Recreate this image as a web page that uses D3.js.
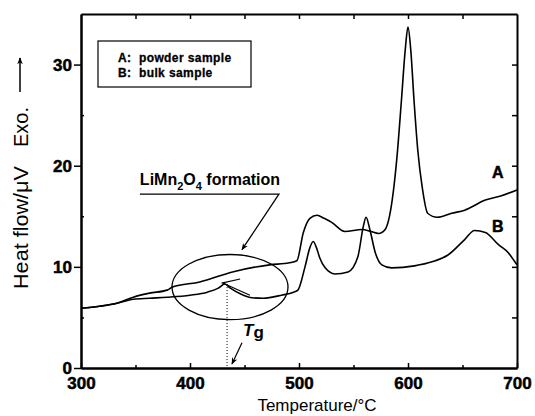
<!DOCTYPE html>
<html>
<head>
<meta charset="utf-8" />
<title>DTA curves</title>
<script src="https://d3js.org/d3.v7.min.js"></script>
<style>
body { margin: 0; background: #fff; }
svg { font-family: "Liberation Sans", Arial, sans-serif; }
.tick text { font-size: 17px; font-weight: bold; fill: #000; stroke: #000; stroke-width: 0.5px; }
.tick line, .domain { stroke: #000; stroke-width: 1.5px; }
.curve { fill: none; stroke: #000; stroke-width: 1.6px; }
</style>
</head>
<body>
<div id="chart"></div>
<script>
// curve A: powder sample (temperature, heat flow)
var tempA = [300, 317, 333, 348, 363, 379, 384, 409, 439, 473, 491, 498, 504, 510, 516.5, 523, 530, 542, 558, 566, 573, 579, 585.5, 590, 594, 597.5, 600, 602.5, 605.5, 609, 613, 618, 627, 640, 652, 671, 685, 700];
var flowA = [5.9, 6.1, 6.4, 7.0, 7.4, 7.7, 8.0, 8.5, 9.5, 10.2, 10.4, 10.6, 13.4, 14.8, 15.1, 14.8, 14.4, 13.5, 13.7, 13.5, 13.3, 13.7, 16.6, 21.0, 26.5, 31.5, 33.7, 31.5, 26.5, 21.5, 17.9, 15.3, 14.9, 15.3, 15.6, 16.6, 17.0, 17.6];

// curve B: bulk sample
var tempB = [300, 317, 333, 348, 363, 379, 400, 416, 426, 432, 437, 447, 457, 467, 484, 495, 499, 505.5, 510, 513, 516, 519, 524, 533, 545, 554, 559, 561.5, 565, 570, 576, 585, 606, 622, 637, 652, 661, 671, 683, 692, 698, 700];
var flowB = [5.9, 6.1, 6.4, 6.8, 6.9, 7.0, 7.2, 7.5, 7.9, 8.3, 7.9, 7.3, 6.95, 6.9, 7.2, 7.5, 7.7, 10.0, 11.9, 12.5, 11.9, 10.9, 9.9, 9.3, 9.5, 11.0, 14.0, 14.9, 13.7, 11.4, 10.2, 9.9, 10.1, 10.5, 11.2, 12.7, 13.6, 13.4, 12.2, 11.4, 10.5, 10.2];

var xMajor = [300, 400, 500, 600, 700];
var xMinor = [350, 450, 550, 650];
var yMajor = [0, 10, 20, 30];
var yMinor = [5, 15, 25];
var yAll = [5, 10, 15, 20, 25, 30];
var xAll = [350, 400, 450, 500, 550, 600, 650];

var legendItems = ["A:  powder sample", "B:  bulk sample"];
var curveLabels = [{name: "A", t: 677, v: 18.8}, {name: "B", t: 677, v: 13.4}];

// Tg construction: tangent lines and onset temperature
var tg = 434;
var tangents = [[[429, 8.4], [446, 8.8]], [[430, 8.4], [455, 7.2]]];
// ellipse marking the formation region
var ell = {t: 436.7, v: 8.0, rt: 53.2, rv: 3.22};

var width = 535, height = 416;
var x = d3.scaleLinear().domain([300, 700]).range([81, 517]);
var y = d3.scaleLinear().domain([0, 35]).range([368, 14]);

var svg = d3.select("#chart").append("svg")
    .attr("width", width).attr("height", height);

var defs = svg.append("defs");
defs.append("marker").attr("id", "head")
    .attr("viewBox", "0 0 10 10").attr("refX", 9).attr("refY", 5)
    .attr("markerWidth", 7).attr("markerHeight", 7)
    .attr("markerUnits", "userSpaceOnUse")
    .attr("orient", "auto")
  .append("path").attr("d", "M0,1 L10,5 L0,9 L3,5 Z").attr("fill", "#000");

// axes
svg.append("g").attr("transform", "translate(0,368)")
    .call(d3.axisBottom(x).tickValues(xMajor).tickSize(-5).tickSizeOuter(0).tickPadding(9).tickFormat(d3.format("d")));
svg.append("g").attr("transform", "translate(0,368)")
    .call(d3.axisBottom(x).tickValues(xMinor).tickSize(-3).tickSizeOuter(0).tickFormat(""));
svg.append("g").attr("transform", "translate(0,14)")
    .call(d3.axisTop(x).tickValues(xAll).tickSize(-5).tickSizeOuter(0).tickFormat(""));
svg.append("g").attr("transform", "translate(81,0)")
    .call(d3.axisLeft(y).tickValues(yMajor).tickSize(7).tickSizeOuter(0).tickPadding(2));
svg.append("g").attr("transform", "translate(81,0)")
    .call(d3.axisLeft(y).tickValues(yMinor).tickSize(-3).tickSizeOuter(0).tickFormat(""));
svg.append("g").attr("transform", "translate(517,0)")
    .call(d3.axisRight(y).tickValues(yAll).tickSize(-5).tickSizeOuter(0).tickFormat(""));
svg.selectAll(".domain").style("stroke-width", "2px");

// curves
var line = d3.line().x(function(d) { return x(d[0]); }).y(function(d) { return y(d[1]); })
    .curve(d3.curveMonotoneX);
svg.append("path").attr("class", "curve").attr("d", line(d3.zip(tempA, flowA)));
svg.append("path").attr("class", "curve").attr("d", line(d3.zip(tempB, flowB)));

// tangents and onset
var straight = d3.line().x(function(d) { return x(d[0]); }).y(function(d) { return y(d[1]); });
tangents.forEach(function(seg) {
    svg.append("path").attr("d", straight(seg)).attr("stroke", "#000").attr("stroke-width", 1.2).attr("fill", "none");
});
svg.append("line").attr("x1", x(tg)).attr("x2", x(tg)).attr("y1", y(8.3)).attr("y2", y(0))
    .attr("stroke", "#000").attr("stroke-width", 1).attr("stroke-dasharray", "1,2");

// ellipse
svg.append("ellipse")
    .attr("cx", x(ell.t)).attr("cy", y(ell.v))
    .attr("rx", x(ell.t + ell.rt) - x(ell.t)).attr("ry", y(ell.v) - y(ell.v + ell.rv))
    .attr("fill", "none").attr("stroke", "#000").attr("stroke-width", 1.3);

// LiMn2O4 formation label with leader
var lbl = svg.append("text").attr("x", x(354)).attr("y", y(18.1))
    .attr("font-size", 16).attr("font-weight", "bold");
lbl.append("tspan").text("LiMn");
lbl.append("tspan").text("2").attr("font-size", 11).attr("dy", 5);
lbl.append("tspan").text("O").attr("dy", -5);
lbl.append("tspan").text("4").attr("font-size", 11).attr("dy", 5);
lbl.append("tspan").text(" formation").attr("dy", -5);
svg.append("path")
    .attr("d", straight([[354, 17.2], [481.6, 17.2], [447.7, 11.7]]))
    .attr("fill", "none").attr("stroke", "#000").attr("stroke-width", 1.3)
    .attr("marker-end", "url(#head)");

// Tg label and arrow
var tgl = svg.append("text").attr("x", 243).attr("y", 336).attr("font-size", 17).attr("font-weight", "bold");
tgl.append("tspan").text("T").attr("font-style", "italic");
tgl.append("tspan").text("g").attr("dy", 2);
svg.append("path")
    .attr("d", straight([[447.7, 2.5], [438.5, 0.4]]))
    .attr("fill", "none").attr("stroke", "#000").attr("stroke-width", 1.2)
    .attr("marker-end", "url(#head)");

// curve labels
svg.selectAll(".clabel").data(curveLabels).enter().append("text")
    .attr("class", "clabel")
    .attr("x", function(d) { return x(d.t); }).attr("y", function(d) { return y(d.v); })
    .attr("font-size", 16).attr("font-weight", "bold")
    .attr("stroke", "#000").attr("stroke-width", 0.5)
    .text(function(d) { return d.name; });

// legend box
svg.append("rect").attr("x", 98).attr("y", 41).attr("width", 153).attr("height", 46)
    .attr("fill", "none").attr("stroke", "#000").attr("stroke-width", 1.2);
svg.selectAll(".leg").data(legendItems).enter().append("text")
    .attr("class", "leg").attr("x", 118)
    .attr("y", function(d, i) { return 62 + i * 15; })
    .attr("font-size", 12).attr("font-weight", "bold").attr("letter-spacing", 0.4)
    .attr("stroke", "#000").attr("stroke-width", 0.3)
    .style("white-space", "pre")
    .text(function(d) { return d; });

// axis titles
svg.append("text").attr("x", 317).attr("y", 411).attr("text-anchor", "middle")
    .attr("font-size", 17).text("Temperature/\u00B0C");
svg.append("text").attr("transform", "translate(28,289) rotate(-90)")
    .attr("font-size", 20).attr("textLength", 123).attr("lengthAdjust", "spacingAndGlyphs")
    .text("Heat flow/\u03BCV");
svg.append("text").attr("transform", "translate(28,147) rotate(-90)")
    .attr("font-size", 20).text("Exo.");
svg.append("line").attr("x1", 20).attr("x2", 20).attr("y1", 92).attr("y2", 58)
    .attr("stroke", "#000").attr("stroke-width", 1.5).attr("marker-end", "url(#head)");
</script>
</body>
</html>
